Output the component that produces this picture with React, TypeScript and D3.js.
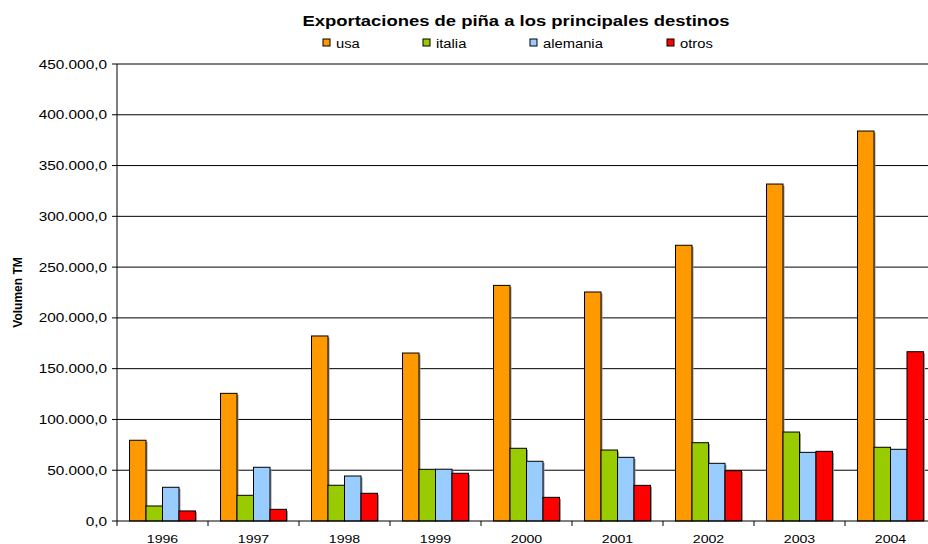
import React from 'react';
import * as d3 from 'd3';

const years = ['1996', '1997', '1998', '1999', '2000', '2001', '2002', '2003', '2004'];
const seriesNames = ['usa', 'italia', 'alemania', 'otros'];
const seriesColors = ['#FF9900', '#99CC00', '#99CCFF', '#FF0000'];
const usa = [79500, 125700, 182200, 165400, 232000, 225500, 271500, 331800, 384000];
const italia = [14800, 25300, 35200, 50900, 71600, 69900, 77100, 87600, 72600];
const alemania = [33200, 52900, 44300, 51000, 58800, 62700, 56800, 67600, 70600];
const otros = [9900, 11500, 27300, 47000, 23300, 35100, 49500, 68600, 166700];
const yTicks = [0, 50000, 100000, 150000, 200000, 250000, 300000, 350000, 400000, 450000];

const W = 928;
const H = 544;
const font = "'Liberation Sans', Arial, sans-serif";
const SX = 1.23; // the original text is a bit wide

const fmt = (v: number) => {
  const s = d3.format(',.1f')(v);
  // spanish style: dot thousands, comma decimals
  return s.replace(/,/g, '#').replace('.', ',').replace(/#/g, '.');
};

const T = ({ x, y, children, ...rest }: any) => (
  <text transform={`translate(${x},${y}) scale(${SX},1)`} {...rest}>{children}</text>
);

const App = () => {
  const left = 117;
  const top = 64;
  const bottom = 521;
  const catW = 91;
  const right = left + catW * years.length;

  const y = d3.scaleLinear().domain([0, 450000]).range([bottom, top]);
  const x = d3.scaleBand().domain(years).range([left, right]).paddingInner(0.275).paddingOuter(0.1375);
  const xs = d3.scaleBand().domain(seriesNames).range([0, x.bandwidth()]);

  const series = [usa, italia, alemania, otros];
  const legendX = [323, 423, 530, 667];

  return (
    <svg width={W} height={H} style={{ position: 'absolute', left: 0, top: 0 }} fontFamily={font}>
      <rect width={W} height={H} fill="#fff" />
      <T x={516} y={25.5} textAnchor="middle" fontSize={15} fontWeight="bold">
        Exportaciones de piña a los principales destinos
      </T>
      {seriesNames.map((n, i) => (
        <g key={n}>
          <rect x={legendX[i]} y={39} width={7} height={7} fill={seriesColors[i]} stroke="#000" strokeWidth={1} />
          <T x={legendX[i] + 13} y={47.5} fontSize={12}>{n}</T>
        </g>
      ))}
      {/* gridlines */}
      {yTicks.slice(1).map(t => (
        <line key={t} x1={left} x2={W} y1={y(t)} y2={y(t)} stroke="#000" strokeWidth={1} />
      ))}
      {/* bars */}
      {years.map((yr, i) => (
        <g key={yr} transform={`translate(${x(yr)},0)`}>
          {series.map((s, j) => (
            <g key={j}>
              <rect x={(xs(seriesNames[j]) as number) + 1.5} y={y(s[i]) + 1.5} width={xs.bandwidth()} height={bottom - y(s[i]) - 1.5} fill="#999" />
              <rect x={xs(seriesNames[j])} y={y(s[i])} width={xs.bandwidth()} height={bottom - y(s[i])} fill={seriesColors[j]} stroke="#000" strokeWidth={1} />
            </g>
          ))}
        </g>
      ))}
      {/* y axis */}
      <line x1={left} x2={left} y1={top} y2={bottom} stroke="#000" />
      {yTicks.map(t => (
        <g key={t}>
          <line x1={left - 5} x2={left} y1={y(t)} y2={y(t)} stroke="#000" />
          <T x={left - 10} y={y(t) + 4.5} textAnchor="end" fontSize={12.5}>{fmt(t)}</T>
        </g>
      ))}
      {/* x axis */}
      <line x1={left} x2={W} y1={bottom} y2={bottom} stroke="#000" />
      {d3.range(years.length + 1).map(i => (
        <line key={i} x1={left + i * catW} x2={left + i * catW} y1={bottom} y2={bottom + 5} stroke="#000" />
      ))}
      {years.map(yr => (
        <T key={yr} x={(x(yr) as number) + x.bandwidth() / 2} y={542.5} textAnchor="middle" fontSize={11.5}>{yr}</T>
      ))}
      <text transform={`translate(22,${(top + bottom) / 2}) rotate(-90)`} textAnchor="middle" fontSize={12} fontWeight="bold">
        Volumen TM
      </text>
    </svg>
  );
};

export default App;
